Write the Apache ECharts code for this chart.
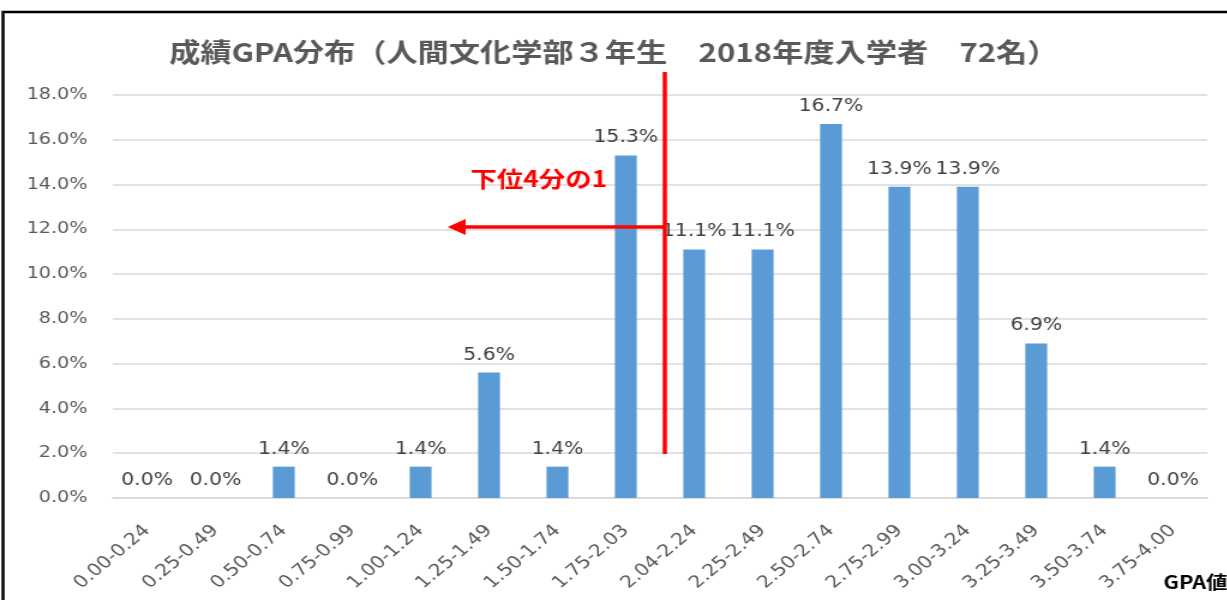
<!DOCTYPE html>
<html>
<head>
<meta charset="utf-8">
<script src="https://cdn.jsdelivr.net/npm/echarts@6/dist/echarts.min.js"></script>
<style>
html, body { margin: 0; padding: 0; background: #fff; overflow: hidden; }
/* the original picture is stretched sideways, so draw narrower and stretch it back */
#chart { width: 1023px; height: 600px; transform: scaleX(1.2); transform-origin: 0 0; }
</style>
</head>
<body>
<div id="chart"></div>
<script>
var categories = ['0.00-0.24','0.25-0.49','0.50-0.74','0.75-0.99','1.00-1.24','1.25-1.49','1.50-1.74','1.75-2.03',
                  '2.04-2.24','2.25-2.49','2.50-2.74','2.75-2.99','3.00-3.24','3.25-3.49','3.50-3.74','3.75-4.00'];
var shares = [0.0, 0.0, 1.4, 0.0, 1.4, 5.6, 1.4, 15.3, 11.1, 11.1, 16.7, 13.9, 13.9, 6.9, 1.4, 0.0];
var yTicks = { min: 0, max: 18, interval: 2 };

var myChart = echarts.init(document.getElementById('chart'));

var option = {
    animation: false,
    title: {
        text: '成績GPA分布（人間文化学部３年生　2018年度入学者　72名）',
        left: 'center',
        top: 34,
        textStyle: {
            fontFamily: 'Noto Sans CJK JP',
            fontSize: 26,
            fontWeight: 'bold',
            color: '#595959'
        }
    },
    grid: {
        left: 94,
        right: 17,
        top: 95,
        bottom: 102
    },
    xAxis: {
        type: 'category',
        data: categories,
        axisTick: { show: false },
        axisLine: { lineStyle: { color: '#d9d9d9', width: 1.5 } },
        axisLabel: {
            rotate: 45,
            interval: 0,
            margin: 30,
            fontFamily: 'DejaVu Sans',
            fontSize: 17,
            color: '#595959'
        }
    },
    yAxis: {
        type: 'value',
        min: yTicks.min,
        max: yTicks.max,
        interval: yTicks.interval,
        axisLine: { show: false },
        axisTick: { show: false },
        splitLine: { lineStyle: { color: '#d9d9d9', width: 1.5 } },
        axisLabel: {
            margin: 21,
            fontFamily: 'DejaVu Sans',
            fontSize: 16,
            color: '#595959',
            formatter: function (v) { return v.toFixed(1) + '%'; }
        }
    },
    series: [
        {
            name: 'GPA',
            type: 'bar',
            barWidth: '32%',
            itemStyle: { color: '#5b9bd5' },
            label: {
                show: true,
                position: 'top',
                distance: 9,
                fontFamily: 'DejaVu Sans',
                fontSize: 17,
                color: '#404040',
                formatter: function (p) { return p.value.toFixed(1) + '%'; }
            },
            data: shares
        }
    ],
    graphic: [
        {
            type: 'rect',
            shape: { x: 2.5, y: 12, width: 1100, height: 700 },
            style: { fill: 'none', stroke: '#000', lineWidth: 2.5 },
            silent: true
        },
        {
            type: 'line',
            shape: { x1: 554, y1: 72, x2: 554, y2: 454 },
            style: { stroke: '#ff0000', lineWidth: 3.5 },
            z: 100
        },
        {
            type: 'line',
            shape: { x1: 554, y1: 227, x2: 386, y2: 227 },
            style: { stroke: '#ff0000', lineWidth: 3.5 },
            z: 100
        },
        {
            type: 'polygon',
            shape: { points: [[373, 227], [388, 219], [388, 235]] },
            style: { fill: '#ff0000' },
            z: 100
        },
        {
            type: 'text',
            left: 392,
            top: 168,
            style: {
                text: '下位4分の1',
                fontFamily: 'Noto Sans CJK JP',
                fontSize: 22,
                fontWeight: 'bold',
                fill: '#ff0000'
            },
            z: 100
        },
        {
            type: 'text',
            right: 0,
            top: 573,
            style: {
                text: 'GPA値',
                fontFamily: 'Noto Sans CJK JP',
                fontSize: 18,
                fontWeight: 'bold',
                fill: '#000'
            }
        }
    ]
};
myChart.setOption(option);
</script>
</body>
</html>
